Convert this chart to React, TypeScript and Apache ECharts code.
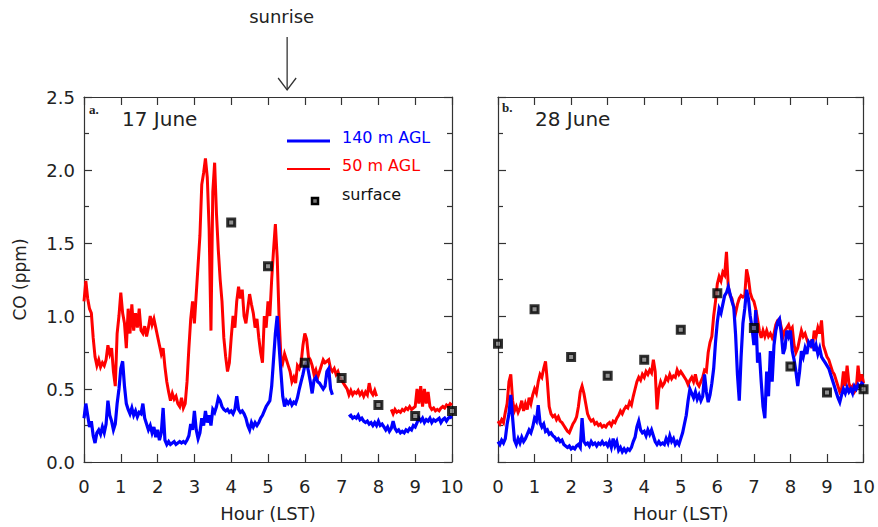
import React, { useEffect, useRef } from "react";
import * as echarts from "echarts";

// sampling step of the records (hours)
const STEP = 0.05;

// 17 June, 50 m AGL (ppm), every 0.05 h from 0 to 10
const RED_17 = [
  1.10, 1.24, 1.12, 1.05, 1.02, 0.85, 0.72, 0.66, 0.70, 0.65, 0.68, 0.66, 0.70, 0.80, 0.74, 0.78, 0.62, 0.52, 0.88, 1.00,
  1.16, 1.02, 0.95, 0.78, 1.05, 0.88, 1.08, 0.90, 1.02, 0.92, 1.05, 0.90, 0.88, 0.93, 0.86, 0.92, 1.00, 0.94, 0.98, 0.92,
  0.86, 0.80, 0.74, 0.78, 0.65, 0.55, 0.48, 0.42, 0.47, 0.43, 0.45, 0.40, 0.38, 0.44, 0.37, 0.40, 0.55, 0.78, 0.98, 1.10,
  0.95, 1.15, 1.35, 1.55, 1.90, 1.98, 2.08, 1.95, 1.60, 0.90, 1.85, 2.05, 1.70, 1.45, 1.25, 1.10, 0.85, 0.72, 0.62, 0.68,
  0.85, 1.00, 0.92, 1.10, 1.20, 1.12, 1.18, 1.00, 0.95, 1.05, 1.15, 1.08, 1.02, 0.92, 0.98, 0.85, 0.75, 0.68, 1.00, 0.92,
  1.10, 1.00, 1.25, 1.45, 1.63, 1.40, 1.00, 0.72, 0.68, 0.74, 0.70, 0.66, 0.62, 0.55, 0.58, 0.54, 0.66, 0.64, 0.68, 0.80,
  0.88, 0.84, 0.72, 0.70, 0.66, 0.60, 0.63, 0.58, 0.62, 0.66, 0.70, 0.68, 0.69, 0.70, 0.64, 0.62, 0.64, 0.60, 0.62, 0.58,
  0.56, 0.54, 0.52, 0.50, 0.46, 0.49, 0.46, 0.48, 0.47, 0.49, 0.46, 0.48, 0.45, 0.48, 0.46, 0.54, 0.48, 0.46, 0.49, 0.45,
  null, null, null, null, null, null, null, 0.36, 0.33, 0.36, 0.34, 0.35, 0.34, 0.36, 0.35, 0.37, 0.36, 0.38, 0.36, 0.37,
  0.38, 0.50, 0.40, 0.52, 0.38, 0.50, 0.40, 0.48, 0.38, 0.36, 0.37, 0.35, 0.36, 0.35, 0.37, 0.38, 0.37, 0.39, 0.38, 0.40,
  0.39,
];

// 17 June, 140 m AGL (ppm)
const BLUE_17 = [
  0.30, 0.40, 0.32, 0.24, 0.28, 0.18, 0.13, 0.20, 0.22, 0.19, 0.24, 0.20, 0.26, 0.42, 0.32, 0.28, 0.22, 0.26, 0.40, 0.50,
  0.64, 0.69, 0.52, 0.40, 0.36, 0.33, 0.37, 0.32, 0.35, 0.31, 0.34, 0.33, 0.40, 0.30, 0.26, 0.22, 0.25, 0.20, 0.24, 0.17,
  0.22, 0.15, 0.20, 0.37, 0.15, 0.12, 0.14, 0.12, 0.13, 0.14, 0.12, 0.13, 0.14, 0.13, 0.14, 0.13, 0.15, 0.18, 0.26, 0.22,
  0.35, 0.22, 0.16, 0.20, 0.30, 0.25, 0.35, 0.27, 0.32, 0.25, 0.36, 0.34, 0.38, 0.44, 0.42, 0.38, 0.36, 0.35, 0.36, 0.34,
  0.35, 0.33, 0.36, 0.45, 0.36, 0.34, 0.35, 0.33, 0.30, 0.25, 0.22, 0.27, 0.24, 0.27, 0.25, 0.27, 0.30, 0.32, 0.35, 0.38,
  0.40, 0.42, 0.52, 0.70, 0.88, 1.00, 0.80, 0.62, 0.45, 0.38, 0.42, 0.40, 0.42, 0.39, 0.41, 0.40, 0.44, 0.50, 0.55, 0.60,
  0.66, 0.68, 0.62, 0.55, 0.47, 0.56, 0.58, 0.55, 0.54, 0.52, 0.50, 0.52, 0.62, 0.64, 0.50, 0.46, null, null, null, null,
  null, null, null, null, 0.31, 0.32, 0.30, 0.31, 0.30, 0.32, 0.29, 0.30, 0.28, 0.27, 0.28, 0.26, 0.27, 0.25, 0.27, 0.25,
  0.28, 0.25, 0.26, 0.24, 0.22, 0.24, 0.21, 0.23, 0.28, 0.23, 0.21, 0.22, 0.20, 0.21, 0.20, 0.22, 0.21, 0.23, 0.22, 0.25,
  0.24, 0.27, 0.30, 0.28, 0.30, 0.27, 0.29, 0.28, 0.30, 0.27, 0.29, 0.28, 0.29, 0.30, 0.27, 0.29, 0.30, 0.28, 0.30, 0.31,
  0.30,
];

// 28 June, 50 m AGL (ppm)
const RED_28 = [
  0.28, 0.26, 0.29, 0.27, 0.34, 0.40, 0.55, 0.60, 0.42, 0.35, 0.38, 0.34, 0.37, 0.42, 0.35, 0.40, 0.36, 0.44, 0.40, 0.46,
  0.50, 0.47, 0.55, 0.60, 0.58, 0.64, 0.69, 0.55, 0.38, 0.33, 0.31, 0.32, 0.29, 0.31, 0.28, 0.27, 0.25, 0.23, 0.21, 0.20,
  0.23, 0.26, 0.28, 0.31, 0.38, 0.48, 0.52, 0.47, 0.40, 0.33, 0.30, 0.28, 0.29, 0.26, 0.27, 0.25, 0.26, 0.24, 0.25, 0.24,
  0.26, 0.27, 0.25, 0.28, 0.27, 0.30, 0.32, 0.35, 0.33, 0.36, 0.38, 0.37, 0.41, 0.39, 0.45, 0.50, 0.55, 0.58, 0.56, 0.60,
  0.58, 0.62, 0.60, 0.63, 0.61, 0.70, 0.62, 0.36, 0.50, 0.55, 0.52, 0.54, 0.58, 0.56, 0.60, 0.57, 0.59, 0.58, 0.63, 0.60,
  0.62, 0.60, 0.58, 0.56, 0.53, 0.56, 0.58, 0.55, 0.60, 0.54, 0.52, 0.55, 0.58, 0.63, 0.62, 0.75, 0.82, 0.86, 1.00, 1.10,
  1.22, 1.27, 1.24, 1.30, 1.28, 1.44, 1.20, 1.14, 1.12, 1.06, 1.02, 1.08, 1.12, 1.14, 1.13, 1.14, 1.32, 1.26, 1.16, 1.12,
  1.10, 1.05, 0.98, 0.90, 0.85, 0.90, 0.86, 0.90, 0.86, 0.88, 0.85, 0.88, 0.94, 0.97, 0.98, 0.92, 0.86, 0.90, 0.92, 0.94,
  0.90, 0.92, 0.80, 0.75, 0.78, 0.84, 0.90, 0.86, 0.88, 0.84, 0.80, 0.82, 0.78, 0.90, 0.86, 0.92, 0.88, 0.97, 0.80, 0.76,
  0.72, 0.70, 0.66, 0.62, 0.60, 0.56, 0.52, 0.48, 0.50, 0.62, 0.52, 0.66, 0.54, 0.50, 0.52, 0.48, 0.50, 0.66, 0.55, 0.60,
  0.54,
];

// 28 June, 140 m AGL (ppm)
const BLUE_28 = [
  0.14, 0.12, 0.15, 0.13, 0.16, 0.26, 0.33, 0.46, 0.30, 0.15, 0.12, 0.16, 0.13, 0.17, 0.14, 0.16, 0.19, 0.22, 0.20, 0.24,
  0.30, 0.28, 0.39, 0.27, 0.24, 0.26, 0.21, 0.22, 0.19, 0.20, 0.18, 0.17, 0.15, 0.16, 0.14, 0.15, 0.12, 0.11, 0.10, 0.11,
  0.09, 0.10, 0.09, 0.11, 0.12, 0.10, 0.30, 0.14, 0.12, 0.13, 0.11, 0.14, 0.12, 0.13, 0.11, 0.13, 0.12, 0.14, 0.12, 0.13,
  0.11, 0.14, 0.10, 0.16, 0.11, 0.14, 0.08, 0.10, 0.07, 0.09, 0.07, 0.09, 0.08, 0.10, 0.14, 0.17, 0.24, 0.28, 0.22, 0.20,
  0.21, 0.18, 0.22, 0.19, 0.22, 0.18, 0.14, 0.12, 0.14, 0.12, 0.13, 0.12, 0.16, 0.13, 0.18, 0.14, 0.16, 0.12, 0.14, 0.12,
  0.16, 0.20, 0.26, 0.32, 0.42, 0.50, 0.47, 0.44, 0.48, 0.43, 0.46, 0.42, 0.45, 0.60, 0.48, 0.41, 0.46, 0.54, 0.64, 0.82,
  0.96, 1.05, 1.02, 1.08, 1.14, 1.16, 1.20, 1.15, 1.10, 1.06, 0.87, 0.60, 0.42, 0.72, 0.95, 1.05, 1.18, 1.12, 1.00, 0.92,
  0.80, 1.04, 0.68, 0.75, 0.55, 0.38, 0.30, 0.62, 0.45, 0.76, 0.55, 0.80, 0.90, 0.96, 0.98, 0.88, 0.74, 0.78, 0.90, 0.86,
  0.90, 0.76, 0.70, 0.62, 0.52, 0.62, 0.76, 0.72, 0.78, 0.74, 0.82, 0.80, 0.84, 0.76, 0.80, 0.74, 0.78, 0.72, 0.70, 0.68,
  0.66, 0.64, 0.60, 0.56, 0.52, 0.48, 0.44, 0.41, 0.46, 0.50, 0.47, 0.51, 0.48, 0.50, 0.47, 0.52, 0.50, 0.53, 0.51, 0.54,
  0.53,
];

// surface measurements [hour, ppm]
const SURFACE_17 = [[4, 1.64], [5, 1.34], [6, 0.68], [7, 0.575], [8, 0.39], [9, 0.315], [10, 0.35]];
const SURFACE_28 = [[0, 0.81], [1, 1.046], [2, 0.72], [3, 0.59], [4, 0.70], [5, 0.905], [6, 1.155], [7, 0.917], [8, 0.654], [9, 0.476], [10, 0.498]];

const X_TICKS = [0, 1, 2, 3, 4, 5, 6, 7, 8, 9, 10];
const Y_TICKS = [0, 0.5, 1.0, 1.5, 2.0, 2.5];
const SUNRISE_HOUR = 5.52;

const FONT = "DejaVu Sans";
const BLUE = "#0000ff";
const RED = "#ff0000";
const AX = { color: "#333", width: 1.2 };

function pairs(vals: (number | null)[]) {
  return vals.map((v, i) => [Number((i * STEP).toFixed(2)), v]);
}

export default function App() {
  const ref = useRef<HTMLDivElement>(null);
  useEffect(() => {
    document.body.style.margin = "0";
    if (!ref.current) return;
    const chart = echarts.init(ref.current, null, { renderer: "svg" });

    const xMin = X_TICKS[0];
    const xMax = X_TICKS[X_TICKS.length - 1];
    const yMin = Y_TICKS[0];
    const yMax = Y_TICKS[Y_TICKS.length - 1];

    const xBase = (grid: number, pos: "bottom" | "top", labels: boolean) => ({
      type: "value",
      gridIndex: grid,
      position: pos,
      min: xMin,
      max: xMax,
      interval: 1,
      axisLine: { show: true, onZero: false, lineStyle: AX },
      axisTick: { show: true, inside: true, length: 8, lineStyle: AX },
      axisLabel: { show: labels, fontSize: 18, color: "#222", fontFamily: FONT, margin: 15 },
      splitLine: { show: false },
      ...(labels
        ? {
            name: "Hour (LST)",
            nameLocation: "middle",
            nameGap: 42,
            nameTextStyle: { fontSize: 18, color: "#222", fontFamily: FONT },
          }
        : {}),
    });

    const yBase = (grid: number, pos: "left" | "right", labels: boolean, named: boolean) => ({
      type: "value",
      gridIndex: grid,
      position: pos,
      min: yMin,
      max: yMax,
      interval: 0.5,
      axisLine: { show: true, onZero: false, lineStyle: AX },
      axisTick: { show: true, inside: true, length: 8, lineStyle: AX },
      minorTick: { show: true, splitNumber: 2, length: 5, lineStyle: AX },
      axisLabel: {
        show: labels,
        fontSize: 18,
        color: "#222",
        fontFamily: FONT,
        margin: 9,
        formatter: (v: number) => v.toFixed(1),
      },
      splitLine: { show: false },
      ...(named
        ? {
            name: "CO (ppm)",
            nameLocation: "middle",
            nameGap: 56,
            nameRotate: 90,
            nameTextStyle: { fontSize: 17, color: "#222", fontFamily: FONT },
          }
        : {}),
    });

    const lineSeries = (name: string, data: (number | null)[], color: string, width: number, xi: number, yi: number) => ({
      type: "line",
      name,
      xAxisIndex: xi,
      yAxisIndex: yi,
      data: pairs(data),
      showSymbol: false,
      connectNulls: false,
      lineStyle: { color, width, join: "miter" },
      itemStyle: { color },
      clip: true,
    });

    const scatterSeries = (data: number[][], xi: number, yi: number) => ({
      type: "scatter",
      xAxisIndex: xi,
      yAxisIndex: yi,
      data,
      symbol: "rect",
      symbolSize: 7,
      itemStyle: { color: "#777", borderColor: "#000", borderWidth: 3 },
      z: 5,
    });

    const sunX = 84 + (SUNRISE_HOUR / 10) * 368;

    chart.setOption({
      animation: false,
      backgroundColor: "#ffffff",
      grid: [
        { left: 84, top: 97, width: 368, height: 368 },
        { left: 498, top: 97, width: 368, height: 368 },
      ],
      xAxis: [xBase(0, "bottom", true), xBase(0, "top", false), xBase(1, "bottom", true), xBase(1, "top", false)],
      yAxis: [yBase(0, "left", true, true), yBase(0, "right", false, false), yBase(1, "left", false, false), yBase(1, "right", false, false)],
      series: [
        lineSeries("50 m AGL", RED_17, RED, 3, 0, 0),
        lineSeries("140 m AGL", BLUE_17, BLUE, 3.2, 0, 0),
        scatterSeries(SURFACE_17, 0, 0),
        lineSeries("50 m AGL", RED_28, RED, 3, 2, 2),
        lineSeries("140 m AGL", BLUE_28, BLUE, 3.2, 2, 2),
        scatterSeries(SURFACE_28, 2, 2),
      ],
      graphic: [
        {
          type: "text",
          left: sunX - 38,
          top: 7,
          style: { text: "sunrise", fontSize: 18, fontFamily: FONT, fill: "#222" },
        },
        { type: "line", shape: { x1: sunX, y1: 37, x2: sunX, y2: 90 }, style: { stroke: "#333", lineWidth: 1.3 } },
        {
          type: "polyline",
          shape: { points: [[sunX - 9, 78], [sunX, 90], [sunX + 9, 78]] },
          style: { stroke: "#333", lineWidth: 1.3, fill: null },
        },
        // panel labels
        { type: "text", x: 89, y: 103, style: { text: "a.", fontSize: 13, fontWeight: "bold", fontFamily: "Liberation Serif", fill: "#222" } },
        { type: "text", x: 122, y: 109, style: { text: "17 June", fontSize: 20, fontFamily: FONT, fill: "#222" } },
        { type: "text", x: 502, y: 101, style: { text: "b.", fontSize: 13, fontWeight: "bold", fontFamily: "Liberation Serif", fill: "#222" } },
        { type: "text", x: 535, y: 109, style: { text: "28 June", fontSize: 20, fontFamily: FONT, fill: "#222" } },
        // legend
        { type: "line", shape: { x1: 287, y1: 141, x2: 330, y2: 141 }, style: { stroke: BLUE, lineWidth: 3 } },
        { type: "text", x: 342, y: 129, style: { text: "140 m AGL", fontSize: 16, fontFamily: FONT, fill: BLUE } },
        { type: "line", shape: { x1: 287, y1: 169, x2: 330, y2: 169 }, style: { stroke: RED, lineWidth: 2 } },
        { type: "text", x: 342, y: 157, style: { text: "50 m AGL", fontSize: 16, fontFamily: FONT, fill: RED } },
        { type: "rect", shape: { x: 312, y: 198, width: 6, height: 6 }, style: { fill: "#777", stroke: "#000", lineWidth: 2.5 } },
        { type: "text", x: 342, y: 186, style: { text: "surface", fontSize: 16, fontFamily: FONT, fill: "#111" } },
      ],
    });

    return () => chart.dispose();
  }, []);

  return <div ref={ref} style={{ width: 878, height: 527 }} />;
}
